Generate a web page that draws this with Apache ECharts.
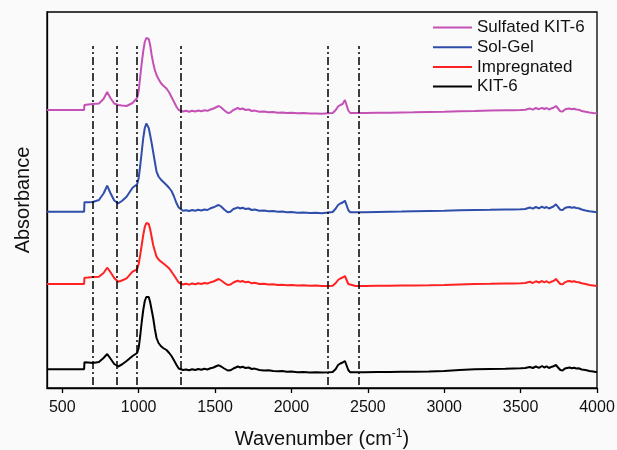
<!DOCTYPE html>
<html>
<head>
<meta charset="utf-8">
<script src="https://cdn.jsdelivr.net/npm/echarts@6/dist/echarts.min.js"></script>
<style>
  html, body { margin: 0; padding: 0; background: #fafafa; }
  #ftir { width: 617px; height: 450px; }
</style>
</head>
<body>
<div id="ftir"></div>
<script>
// wavenumbers (cm-1) shared by all four spectra
const wavenumbers = [400, 643, 645, 670, 700, 740, 770, 794, 815, 840, 866, 890, 921, 960, 990,
  1000, 1010, 1020, 1030, 1040, 1050, 1058, 1066, 1075, 1085, 1095, 1106, 1117, 1130, 1145, 1160,
  1182, 1200, 1215, 1230, 1248, 1262, 1274,
  1290, 1310, 1330, 1350, 1370, 1390, 1410, 1430, 1450, 1470, 1490, 1510, 1524, 1540, 1560, 1583,
  1600, 1620, 1635, 1649, 1665, 1680, 1700, 1720, 1740, 1760, 1790, 1820, 1850, 1880, 1910, 1940,
  1970, 2000, 2040, 2080, 2120, 2160, 2200, 2240, 2270, 2290, 2305, 2320, 2335, 2350, 2360, 2372,
  2385, 2420, 2480, 2560, 2640, 2720, 2800, 2900, 3000, 3100, 3200, 3300, 3400, 3450, 3500, 3530,
  3560, 3580, 3600, 3620, 3640, 3655, 3670, 3685, 3700, 3715, 3731, 3745, 3760, 3775, 3790, 3805,
  3820, 3835, 3850, 3865, 3880, 3900, 3925, 3950, 3975, 4000];

// absorbance (arbitrary units, spectra already offset vertically)
const kit6 = [18.7, 18.7, 25.7, 25.5, 25, 26, 30, 34, 29.5, 24, 21.5, 23.5, 27, 32, 35,
  40, 52, 66, 78, 87, 91, 92.3, 91, 86, 78, 70, 59, 50, 45, 42, 40,
  38, 35, 32, 28, 23, 19.5, 18,
  18, 18.5, 17.7, 18.7, 18, 19, 18.2, 19.2, 18.5, 19.7, 20.5, 22, 22.7, 21.5, 19.5, 17.5,
  17.7, 19.5, 20.5, 21.5, 20.5, 21.2, 20, 20.5, 19, 19.4, 18, 17.5, 17.8, 17, 16.7, 17,
  16.2, 16.5, 15.7, 16, 15.5, 15.7, 15.5, 15.7, 16, 19, 23, 24.5, 25.5, 27, 26, 18,
  15.7, 15.7, 15.8, 16, 16, 16.2, 16.2, 16.4, 17, 18, 18.7, 19, 19.3, 19.5, 19.7, 20,
  21, 20, 21.5, 20.2, 22, 20.5, 21.7, 20, 21, 21.7, 23, 20.5, 18, 17.5, 19.5, 20,
  20.5, 19.7, 20.3, 19.5, 19.7, 18.5, 18, 17, 16.5, 15.7];

const impregnated = [104, 104, 110.3, 110.5, 111, 111.3, 115, 120.3, 116, 110, 106.3, 107.5, 109.7, 116.3, 118.7,
  124, 133, 143, 153, 161, 165, 165.7, 164, 159, 151, 143, 137, 131.3, 128.5, 126.5, 124.7,
  122, 119.5, 116.3, 113, 108.7, 105.5, 104,
  103.5, 104.2, 103.4, 104.5, 103.7, 104.7, 104, 105, 104.4, 105.7, 106.5, 108, 109, 107.5, 105.2, 103,
  103.4, 105.5, 106.5, 107.3, 106.2, 107, 105.7, 106.2, 104.7, 105.2, 104, 104.2, 103.5, 103.7, 103, 103.2,
  102.7, 103, 102.5, 102.7, 102.2, 102.4, 102, 102, 102.2, 105, 108, 109.5, 110.5, 112, 111, 104,
  102, 102, 102, 102.2, 102.2, 102.4, 102.5, 102.7, 103, 103.5, 104, 104.2, 104.5, 104.6, 104.7, 105,
  106.2, 105, 106.7, 105.5, 107, 105.7, 106.8, 105.2, 106.2, 107, 109, 106.5, 104, 103.7, 105.7, 106.7,
  107, 106.2, 106.8, 106, 105.8, 104.7, 104, 103, 102.5, 102];

const solGel = [176.3, 176.3, 185.7, 185.7, 186, 188, 194.5, 202.3, 195, 187.5, 184.7, 187, 191.3, 200.3, 203.7,
  210, 222, 236, 250, 260, 264.5, 264, 260, 253, 245, 236, 226, 216.3, 211.5, 208.5, 206.3,
  203, 200, 197, 192, 184.7, 180.5, 178.7,
  177.2, 177.8, 177, 178, 177.3, 178.2, 177.5, 178.5, 178, 179.7, 180.7, 182.2, 183, 181.5, 178.5, 175.7,
  176.3, 179, 179.7, 180.7, 179.5, 180.2, 179, 179.5, 178, 178.5, 177.3, 177.5, 176.8, 177, 176.2, 176.5,
  175.8, 176, 175.3, 175.6, 175, 175.2, 174.7, 175.5, 176, 179.5, 183, 184.5, 185.5, 187.3, 186.2, 178,
  175.7, 175.7, 175.8, 176, 176.2, 176.4, 176.7, 177, 177.3, 177.7, 178, 178.2, 178.5, 178.6, 178.7, 179,
  180.5, 179.4, 181, 179.7, 181.4, 180, 181, 179.5, 180.5, 181.5, 183.7, 181, 178.2, 178, 180, 180.7,
  181, 180.2, 180.8, 180, 179.7, 178.5, 177.5, 176.7, 176.2, 175.7];

const sulfated = [278, 278, 283, 283.5, 284, 284.5, 289, 296, 290, 284.5, 283, 282.5, 282, 285, 290,
  297, 311, 325, 337, 346, 350, 351, 349, 343, 333, 325, 318, 313, 309, 305, 302.5,
  299.5, 295.5, 291, 286.5, 281, 278, 277,
  276.5, 277.2, 276.3, 277.3, 276.5, 277.5, 276.8, 277.7, 277.2, 278.5, 279.5, 281, 282, 280.5, 277.7, 275,
  275.5, 278, 279, 280, 278.7, 279.5, 278, 278.5, 277, 277.4, 276.2, 276.4, 275.7, 276, 275.3, 275.6,
  275, 275.2, 274.7, 275, 274.4, 274.6, 274.2, 274.7, 275, 278, 281.5, 283, 284, 288, 286, 277.5,
  275, 275, 275, 275.2, 275.3, 275.5, 275.7, 276, 276.2, 276.7, 277, 277.4, 277.7, 277.8, 278, 278.3,
  279.5, 278.4, 280, 278.8, 280.2, 279, 280, 278.5, 279.5, 280.2, 282, 279.5, 276.7, 276.5, 278.5, 279.2,
  279.5, 278.8, 279.3, 278.5, 278.3, 277, 276.2, 275.5, 275, 274.7];

const seriesNames = ['Sulfated KIT-6', 'Sol-Gel', 'Impregnated', 'KIT-6'];
const seriesColors = ['#c451b6', '#2f4eab', '#ff2222', '#000000'];
const seriesValues = [sulfated, solGel, impregnated, kit6];

// band positions marked by the dash-dot guide lines
const markerWavenumbers = [700, 855, 990, 1275, 2240, 2440];
const markerRange = [3, 342];

const xTicks = [500, 1000, 1500, 2000, 2500, 3000, 3500, 4000];

const chart = echarts.init(document.getElementById('ftir'));

const series = seriesNames.map((name, i) => {
  const s = {
    name: name,
    type: 'line',
    symbol: 'none',
    lineStyle: { color: seriesColors[i], width: 2 },
    itemStyle: { color: seriesColors[i] },
    data: wavenumbers.map((w, j) => [w, seriesValues[i][j]])
  };
  if (name === 'KIT-6') {
    s.markLine = {
      silent: true,
      symbol: 'none',
      label: { show: false },
      lineStyle: { color: '#000', width: 1.5, type: [8, 3, 2, 3] },
      data: markerWavenumbers.map(w => [{ coord: [w, markerRange[0]] }, { coord: [w, markerRange[1]] }])
    };
  }
  return s;
});

chart.setOption({
  backgroundColor: '#fafafa',
  animation: false,
  textStyle: { fontFamily: 'Liberation Sans, Arial, sans-serif' },
  grid: {
    left: 47, right: 20, top: 12, bottom: 62,
    outerBoundsMode: 'none',
    containLabel: false,
    show: true, borderColor: '#000', borderWidth: 1.3
  },
  legend: {
    orient: 'vertical',
    left: 428,
    top: 14,
    icon: 'rect',
    itemWidth: 39,
    itemHeight: 2,
    itemGap: 2.7,
    textStyle: { fontSize: 17, color: '#111' },
    data: seriesNames
  },
  xAxis: {
    type: 'value',
    min: 400,
    max: 4000,
    interval: 100,
    axisLine: { lineStyle: { color: '#000', width: 1.3 } },
    axisTick: {
      length: 5,
      lineStyle: { color: '#000', width: 1.3 },
      customValues: xTicks
    },
    axisLabel: {
      fontSize: 16,
      color: '#111',
      margin: 12,
      customValues: xTicks,
      formatter: v => String(v)
    },
    splitLine: { show: false },
    name: 'Wavenumber (cm{sup|-1})',
    nameLocation: 'middle',
    nameGap: 40,
    nameTextStyle: {
      fontSize: 20,
      color: '#111',
      rich: {
        sup: { fontSize: 12, color: '#111', padding: [0, 0, 10, 0] }
      }
    }
  },
  yAxis: {
    type: 'value',
    min: 0,
    max: 376,
    axisLine: { show: true, lineStyle: { color: '#000', width: 1.3 } },
    axisTick: { show: false },
    axisLabel: { show: false },
    splitLine: { show: false },
    name: 'Absorbance',
    nameLocation: 'middle',
    nameGap: 14,
    nameTextStyle: { fontSize: 20, color: '#111' }
  },
  series: series
});
</script>
</body>
</html>
